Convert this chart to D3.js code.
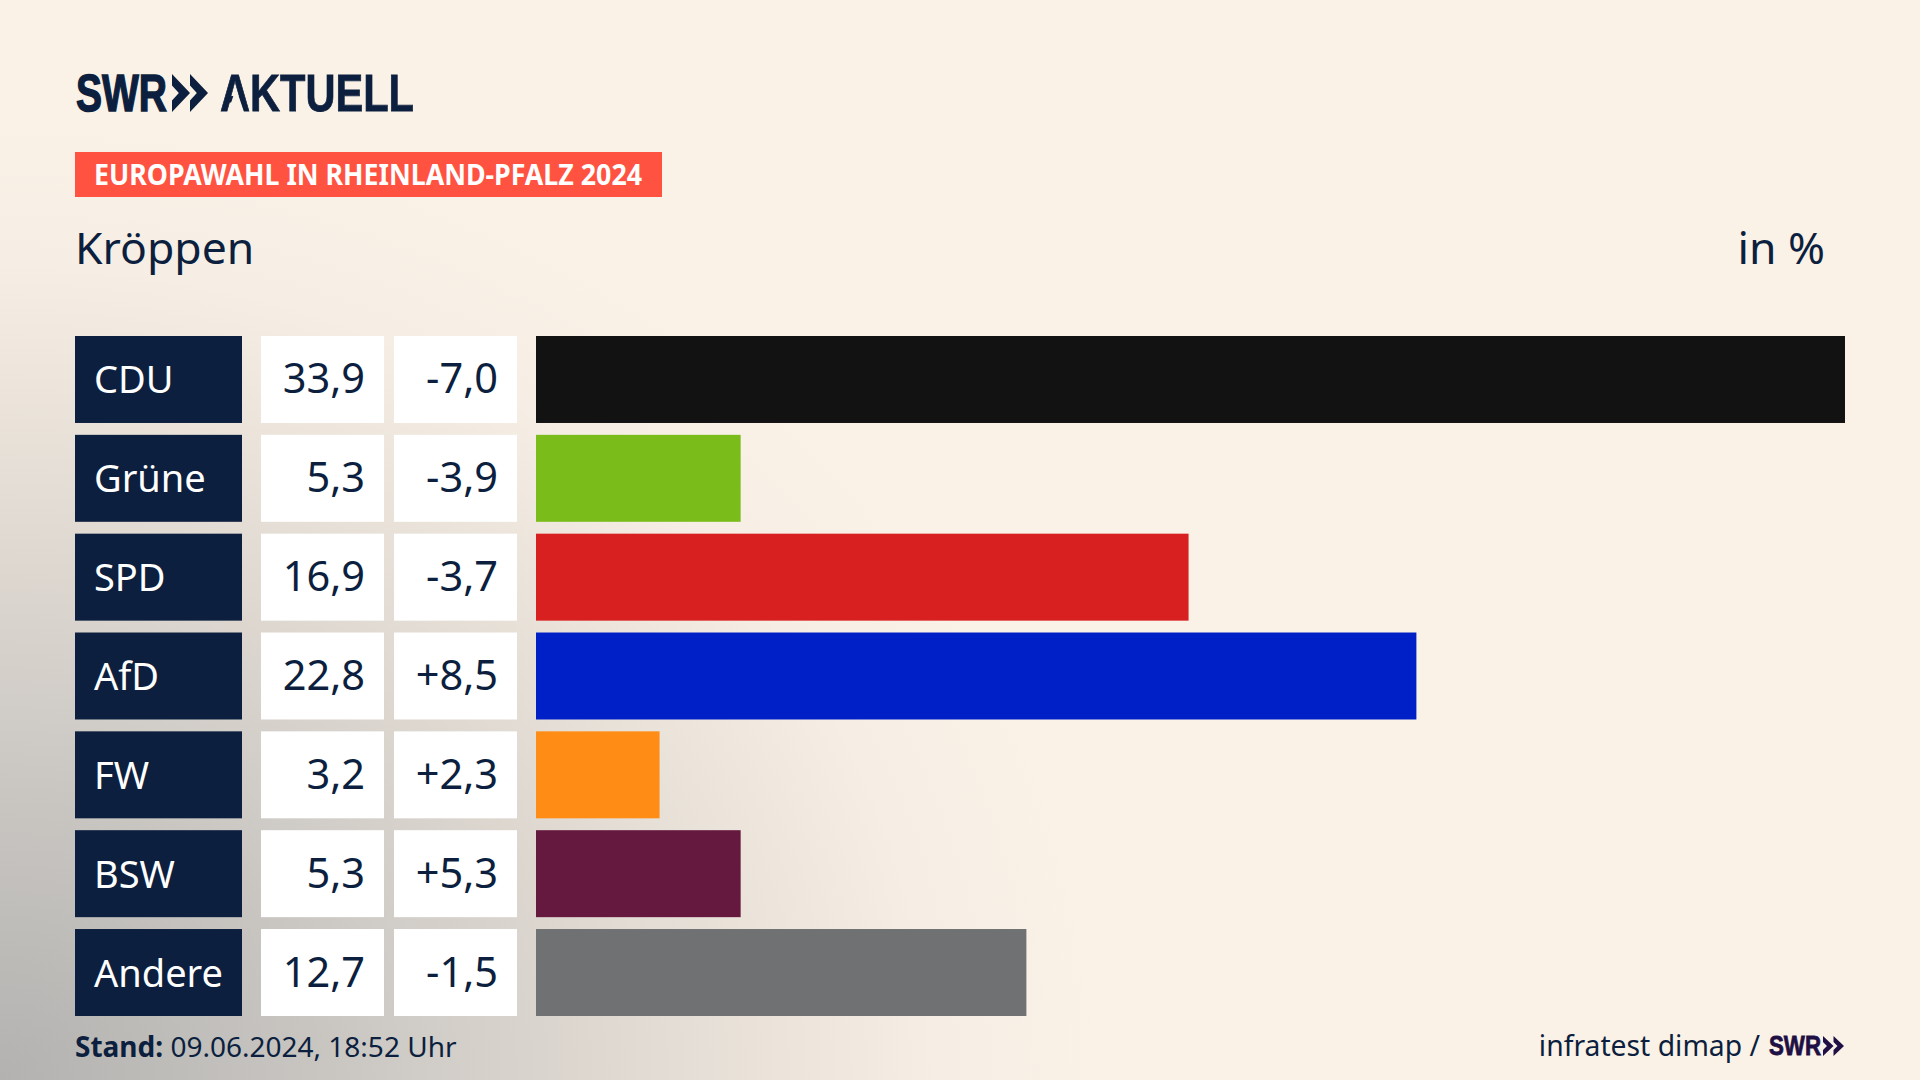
<!DOCTYPE html>
<html>
<head>
<meta charset="utf-8">
<script src="https://cdn.jsdelivr.net/npm/d3@7"></script>
<style>
  html, body { margin: 0; padding: 0; background: #faf2e7; overflow: hidden; }
  svg { display: block; }
  text { font-family: "Noto Sans", sans-serif; }
</style>
</head>
<body>
<script>
const parties = ["CDU", "Grüne", "SPD", "AfD", "FW", "BSW", "Andere"];
const shares = [33.9, 5.3, 16.9, 22.8, 3.2, 5.3, 12.7];
const changes = [-7.0, -3.9, -3.7, 8.5, 2.3, 5.3, -1.5];
const colors = ["#121212", "#7abd1b", "#d7201f", "#0020c7", "#ff8c14", "#66193f", "#707173"];

const navy = "#0c1f3e";
const narrow = '"Liberation Sans Narrow", "Liberation Sans", sans-serif';

const width = 1920, height = 1080;

const svg = d3.select("body").append("svg")
  .attr("width", width)
  .attr("height", height);

// background, grey glow from the lower left corner
const defs = svg.append("defs");
const glow = defs.append("radialGradient")
  .attr("id", "glow")
  .attr("gradientUnits", "userSpaceOnUse")
  .attr("cx", 0).attr("cy", 0).attr("r", 1)
  .attr("gradientTransform", `translate(0,${height}) scale(1100,960)`);
glow.append("stop").attr("offset", 0).attr("stop-color", "#b3b2b0");
glow.append("stop").attr("offset", 0.3).attr("stop-color", "#c9c6c2");
glow.append("stop").attr("offset", 0.6).attr("stop-color", "#e3dcd4");
glow.append("stop").attr("offset", 0.85).attr("stop-color", "#f6eee4");
glow.append("stop").attr("offset", 1).attr("stop-color", "#faf2e7");

svg.append("rect").attr("width", width).attr("height", height).attr("fill", "url(#glow)");

// takes the crossbar out of the logo A
const noBar = defs.append("mask")
  .attr("id", "nobar")
  .attr("maskUnits", "userSpaceOnUse")
  .attr("x", 0).attr("y", 0).attr("width", width).attr("height", height);
noBar.append("rect").attr("width", width).attr("height", height).attr("fill", "#fff");
noBar.append("path").attr("d", "M236 88L228 112L244 112Z").attr("fill", "#000");

// scales
const y = d3.scaleBand().domain(parties).range([336, 1016]).paddingInner(0.12);
const x = d3.scaleLinear().domain([0, 33.9]).range([536, 1845]);

const de = d3.formatLocale({ decimal: ",", thousands: ".", grouping: [3], currency: ["", " €"], minus: "-" });
const fmtShare = de.format(".1f");
const fmtChange = de.format("+.1f");

// SWR logo, chevrons are a plain path scaled from a unit box
function chevrons(g, px, py, w, h, fill) {
  const unit = "M0 0L1 .5L0 1L0 .7L.38 .5L0 .3Z";
  [0, w].forEach(off => {
    g.append("path")
      .attr("d", unit)
      .attr("transform", `translate(${px + off},${py}) scale(${w},${h})`)
      .attr("fill", fill);
  });
}

const logo = svg.append("g");
logo.append("text")
  .attr("x", 76).attr("y", 111)
  .attr("textLength", 91).attr("lengthAdjust", "spacingAndGlyphs")
  .style("font-family", narrow).style("font-weight", 700).style("font-size", "52px")
  .attr("stroke", navy).attr("stroke-width", 1.5)
  .attr("fill", navy).text("SWR");
chevrons(logo, 172, 74, 18, 38, navy);
logo.append("text")
  .attr("x", 220).attr("y", 111)
  .attr("textLength", 194).attr("lengthAdjust", "spacingAndGlyphs")
  .attr("mask", "url(#nobar)")
  .style("font-family", narrow).style("font-weight", 700).style("font-size", "52px")
  .attr("stroke", navy).attr("stroke-width", 0.8)
  .attr("fill", navy).text("AKTUELL");

// red tag
svg.append("rect").attr("x", 75).attr("y", 152).attr("width", 587).attr("height", 45).attr("fill", "#ff5240");
svg.append("text")
  .attr("x", 94).attr("y", 185)
  .attr("textLength", 548).attr("lengthAdjust", "spacingAndGlyphs")
  .style("font-weight", 700).style("font-size", "28px")
  .attr("fill", "#fff").text("EUROPAWAHL IN RHEINLAND-PFALZ 2024");

svg.append("text")
  .attr("x", 75).attr("y", 264)
  .style("font-size", "44.5px").attr("fill", navy).text("Kröppen");
svg.append("text")
  .attr("x", 1825).attr("y", 264).attr("text-anchor", "end")
  .style("font-size", "44.5px").attr("fill", navy).text("in %");

// rows
const rows = svg.selectAll("g.row")
  .data(parties.map((p, i) => ({ party: p, share: shares[i], change: changes[i], color: colors[i] })))
  .enter()
  .append("g")
  .attr("class", "row")
  .attr("transform", d => `translate(0,${y(d.party)})`);

const h = y.bandwidth();
const base = h / 2 + 14;

rows.append("rect").attr("x", 75).attr("width", 167).attr("height", h).attr("fill", navy);
rows.append("rect").attr("x", 261).attr("width", 123).attr("height", h).attr("fill", "#fff");
rows.append("rect").attr("x", 394).attr("width", 123).attr("height", h).attr("fill", "#fff");

rows.append("rect")
  .attr("x", x(0))
  .attr("width", d => x(d.share) - x(0))
  .attr("height", h)
  .attr("fill", d => d.color);

rows.append("text")
  .attr("x", 94).attr("y", base)
  .style("font-size", "38px").attr("fill", "#fff")
  .text(d => d.party);
rows.append("text")
  .attr("x", 365).attr("y", base).attr("text-anchor", "end")
  .style("font-size", "41.5px").attr("fill", navy)
  .text(d => fmtShare(d.share));
rows.append("text")
  .attr("x", 498).attr("y", base).attr("text-anchor", "end")
  .style("font-size", "41.5px").attr("fill", navy)
  .text(d => fmtChange(d.change));

// footer
const stand = svg.append("text")
  .attr("x", 75).attr("y", 1057)
  .style("font-size", "28px").attr("fill", navy);
stand.append("tspan").style("font-weight", 700).text("Stand:");
stand.append("tspan").text(" 09.06.2024, 18:52 Uhr");

svg.append("text")
  .attr("x", 1760).attr("y", 1056).attr("text-anchor", "end")
  .style("font-size", "28.3px").attr("fill", navy).text("infratest dimap /");

const small = svg.append("g");
small.append("text")
  .attr("x", 1769).attr("y", 1055)
  .attr("textLength", 52).attr("lengthAdjust", "spacingAndGlyphs")
  .style("font-family", narrow).style("font-weight", 700).style("font-size", "27px")
  .attr("stroke", "#1e0f44").attr("stroke-width", 0.8)
  .attr("fill", "#1e0f44").text("SWR");
chevrons(small, 1823, 1036, 10.5, 20, "#1e0f44");
</script>
</body>
</html>
